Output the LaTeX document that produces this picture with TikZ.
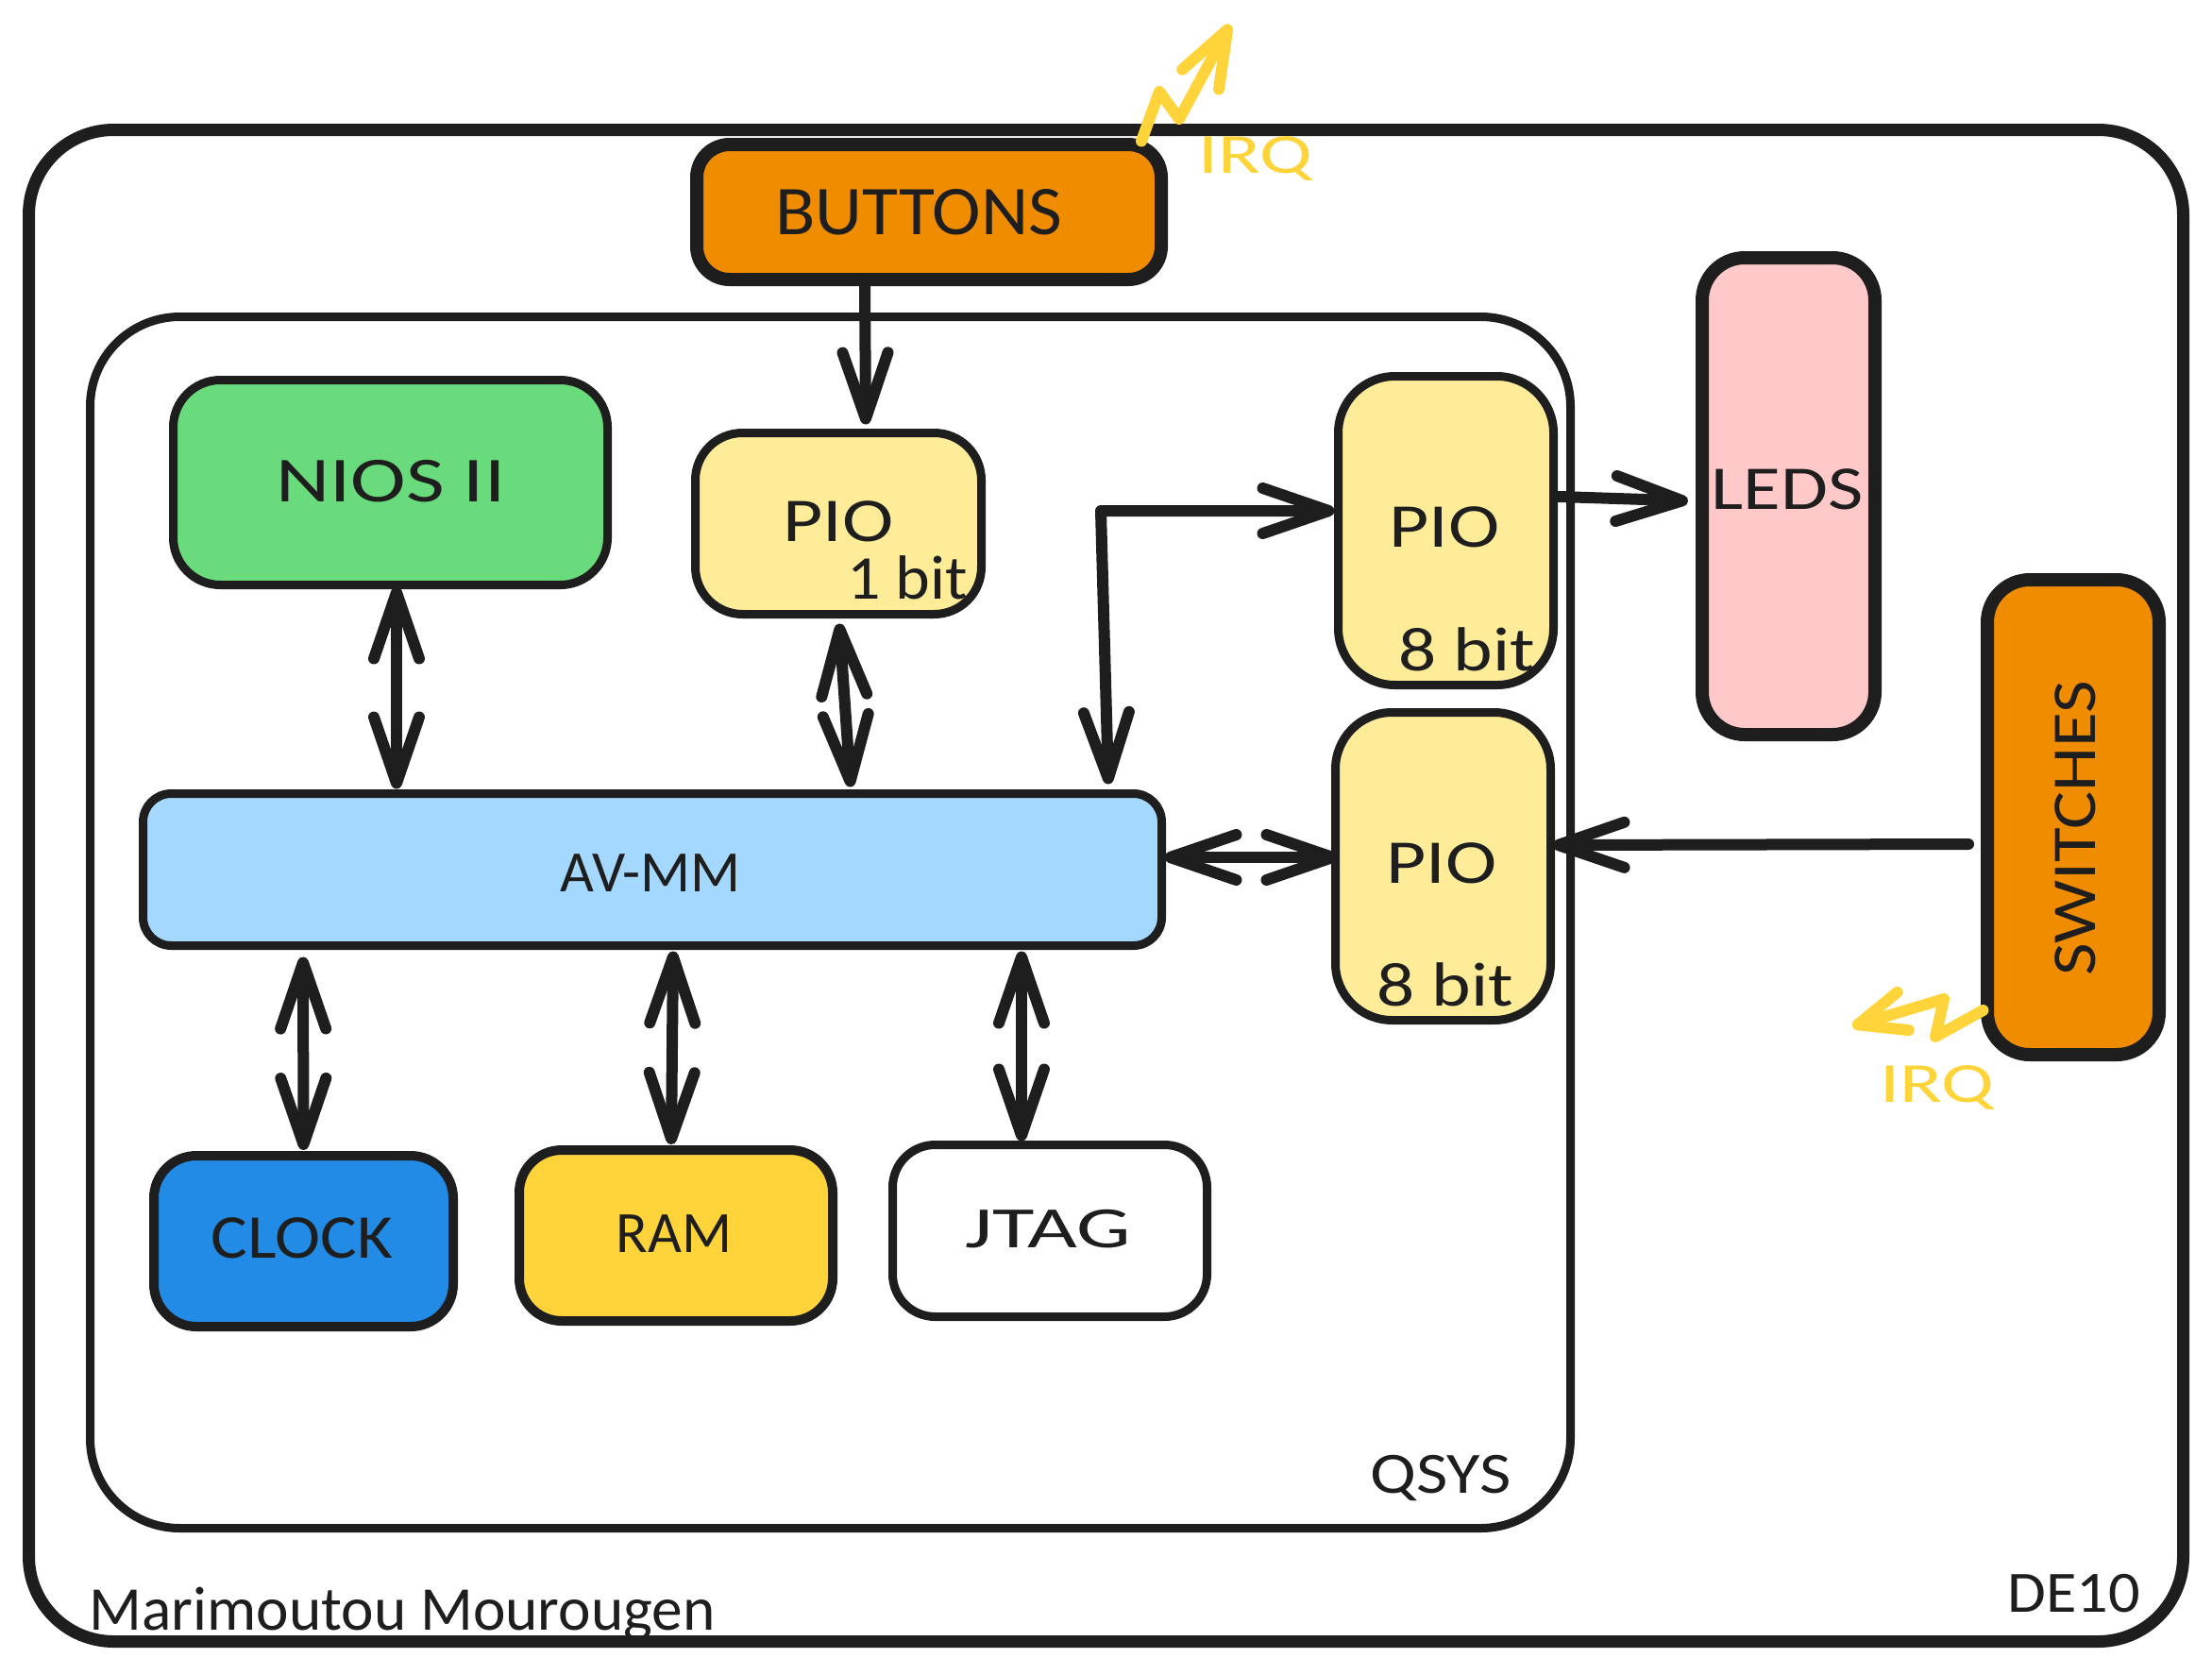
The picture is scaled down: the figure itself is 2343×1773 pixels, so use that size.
\documentclass[tikz,border=0pt]{standalone}
\usepackage{fontspec}
\setmainfont{Carlito}
\usetikzlibrary{arrows.meta}
\definecolor{ink}{HTML}{1E1E1E}
\definecolor{orangefill}{HTML}{F08C00}
\definecolor{piofill}{HTML}{FFEC99}
\definecolor{niosfill}{HTML}{69DB7C}
\definecolor{ledfill}{HTML}{FFC9C9}
\definecolor{avfill}{HTML}{A5D8FF}
\definecolor{clockfill}{HTML}{228BE6}
\definecolor{irqcol}{HTML}{FFD43B}
\newcommand\xstretch[2]{\scalebox{#1}[1]{#2}}
\tikzset{
  box/.style={draw=ink,rectangle,outer sep=0pt,inner sep=0pt},
  lbl/.style={text=ink,inner sep=0pt,outer sep=0pt,font=\fontsize{#1}{#1}\selectfont},
  conn/.style={draw=ink,line width=12pt,line cap=round,line join=round},
  oneway/.style={conn,-{Straight Barb[length=70pt,width=48pt,round]}},
  biarrow/.style={conn,{Straight Barb[length=70pt,width=48pt,round]}-{Straight Barb[length=70pt,width=48pt,round]}},
  irq/.style={draw=irqcol,line width=12pt,line cap=round,line join=round},
  irqlbl/.style={text=irqcol,inner sep=0pt,font=\fontsize{60}{60}\selectfont}
}
\begin{document}
\begin{tikzpicture}[x=1pt,y=-1pt]
\fill[white] (0,0) rectangle (2343,1773);
\useasboundingbox (0,0) rectangle (2343,1773);
% frames
\node[box,line width=13pt,minimum width=2282pt,minimum height=1601pt,rounded corners=90pt] (de) at (1171.5,938) {};
\node[box,line width=9pt,minimum width=1568pt,minimum height=1283pt,rounded corners=95pt] (qsys) at (879.5,977) {};
% boxes
\node[box,fill=orangefill,line width=14pt,minimum width=492pt,minimum height=143pt,rounded corners=35pt] (buttons) at (984,224.5) {};
\node[box,fill=piofill,line width=9pt,minimum width=303pt,minimum height=192pt,rounded corners=50pt] (pioa) at (888,554.5) {};
\node[box,fill=niosfill,line width=9pt,minimum width=460pt,minimum height=217pt,rounded corners=50pt] (nios) at (413.5,511) {};
\node[box,fill=ledfill,line width=14pt,minimum width=183pt,minimum height=505pt,rounded corners=45pt] (leds) at (1894.5,525.5) {};
\node[box,fill=orangefill,line width=14pt,minimum width=182pt,minimum height=503pt,rounded corners=45pt] (switches) at (2196,865.5) {};
\node[box,fill=piofill,line width=9pt,minimum width=228pt,minimum height=327pt,rounded corners=60pt] (piob) at (1531.5,562) {};
\node[box,fill=piofill,line width=9pt,minimum width=228pt,minimum height=326pt,rounded corners=60pt] (pioc) at (1528.5,917.5) {};
\node[box,fill=avfill,line width=9pt,minimum width=1079pt,minimum height=161pt,rounded corners=30pt] (av) at (691,921) {};
\node[box,fill=clockfill,line width=10pt,minimum width=317pt,minimum height=181pt,rounded corners=45pt] (clock) at (321.5,1314.5) {};
\node[box,fill=irqcol,line width=10pt,minimum width=332pt,minimum height=181pt,rounded corners=45pt] (ram) at (716,1308.5) {};
\node[box,fill=white,line width=9pt,minimum width=333pt,minimum height=182pt,rounded corners=45pt] (jtag) at (1112,1303.5) {};
% connectors
\draw[oneway] ([xshift=-68pt]buttons.south) -- ([xshift=29pt,yshift=9pt]pioa.north);
\draw[biarrow] ([xshift=6.5pt,yshift=-2pt]nios.south) -- ([xshift=-271pt,yshift=5pt]av.north);
\draw[biarrow] ([xshift=1pt,yshift=-10pt]pioa.south) -- ([xshift=210pt,yshift=7pt]av.north);
\coordinate (elbow) at (1166,541);
\draw[biarrow] ([xshift=-4pt,yshift=21pt]piob.west) -- (elbow) -- ([xshift=483pt,yshift=10pt]av.north);
\draw[oneway] ([xshift=6pt,yshift=36pt]piob.east) -- ([xshift=-15pt,yshift=-5pt]leds.west);
\draw[biarrow] ([xshift=3pt,yshift=13pt]av.east) -- ([xshift=3pt,yshift=9.5pt]pioc.west);
\draw[oneway] ([xshift=-20pt,yshift=-28.5pt]switches.west) -- ([xshift=2pt,yshift=22.5pt]pioc.east);
\draw[biarrow] ([xshift=-370pt,yshift=-12pt]av.south) -- ([yshift=6pt]clock.north);
\draw[biarrow] ([xshift=22pt,yshift=-6pt]av.south) -- ([xshift=-5pt,yshift=6pt]ram.north);
\draw[biarrow] ([xshift=391pt,yshift=-6pt]av.south) -- ([xshift=-30pt,yshift=4pt]jtag.north);
% IRQ arrows
\coordinate (irqaa) at (1228,97);
\coordinate (irqab) at (1249,126);
\coordinate (irqac) at (1303,26);
\draw[irq,-{Straight Barb[length=60pt,width=44pt,round]}] ([xshift=225pt,yshift=3.5pt]buttons.north) -- (irqaa) -- (irqab) -- (irqac);
\coordinate (irqba) at (2050,1098);
\coordinate (irqbb) at (2059,1058);
\coordinate (irqbc) at (1962,1087);
\draw[irq,-{Straight Barb[length=50pt,width=42pt,round]}] ([xshift=-4.5pt,yshift=-204.5pt]switches.west) -- (irqba) -- (irqbb) -- (irqbc);
% labels
\node[lbl=74] (tbuttons) at (973,225) {\xstretch{1.05}{BUTTONS}};
\node[lbl=68] (tnios) at (414,510) {\xstretch{1.3}{NIOS II}};
\node[lbl=66] (tpioa) at (888,552) {\xstretch{1.24}{PIO}};
\node[lbl=66] (tbita) at (961,612) {\xstretch{1.06}{1 bit}};
\node[lbl=66] (tpiob) at (1530,558) {\xstretch{1.24}{PIO}};
\node[lbl=66] (tbitb) at (1554,688) {\xstretch{1.2}{8 bit}};
\node[lbl=66] (tpioc) at (1527,914) {\xstretch{1.24}{PIO}};
\node[lbl=66] (tbitc) at (1531,1043) {\xstretch{1.2}{8 bit}};
\node[lbl=66] (tleds) at (1893,518) {\xstretch{1.23}{LEDS}};
\node[lbl=66,rotate=90] (tswitches) at (2198,877) {\xstretch{1.14}{SWITCHES}};
\node[lbl=62] (tav) at (689,925) {AV-MM};
\node[lbl=66] (tclock) at (320,1311) {\xstretch{1.1}{CLOCK}};
\node[lbl=62] (tram) at (714,1307) {RAM};
\node[lbl=62] (tjtag) at (1110,1302) {\xstretch{1.47}{JTAG}};
\node[lbl=62] (tqsys) at (1526,1565) {\xstretch{1.17}{QSYS}};
\node[lbl=62] (tde) at (2197,1688) {\xstretch{1.07}{DE10}};
\node[lbl=66] (tname) at (426,1709) {\xstretch{0.99}{Marimoutou Mourougen}};
\node[irqlbl] (tirqa) at (1330,168) {\xstretch{1.38}{IRQ}};
\node[irqlbl] (tirqb) at (2052,1152) {\xstretch{1.38}{IRQ}};
\end{tikzpicture}
\end{document}
